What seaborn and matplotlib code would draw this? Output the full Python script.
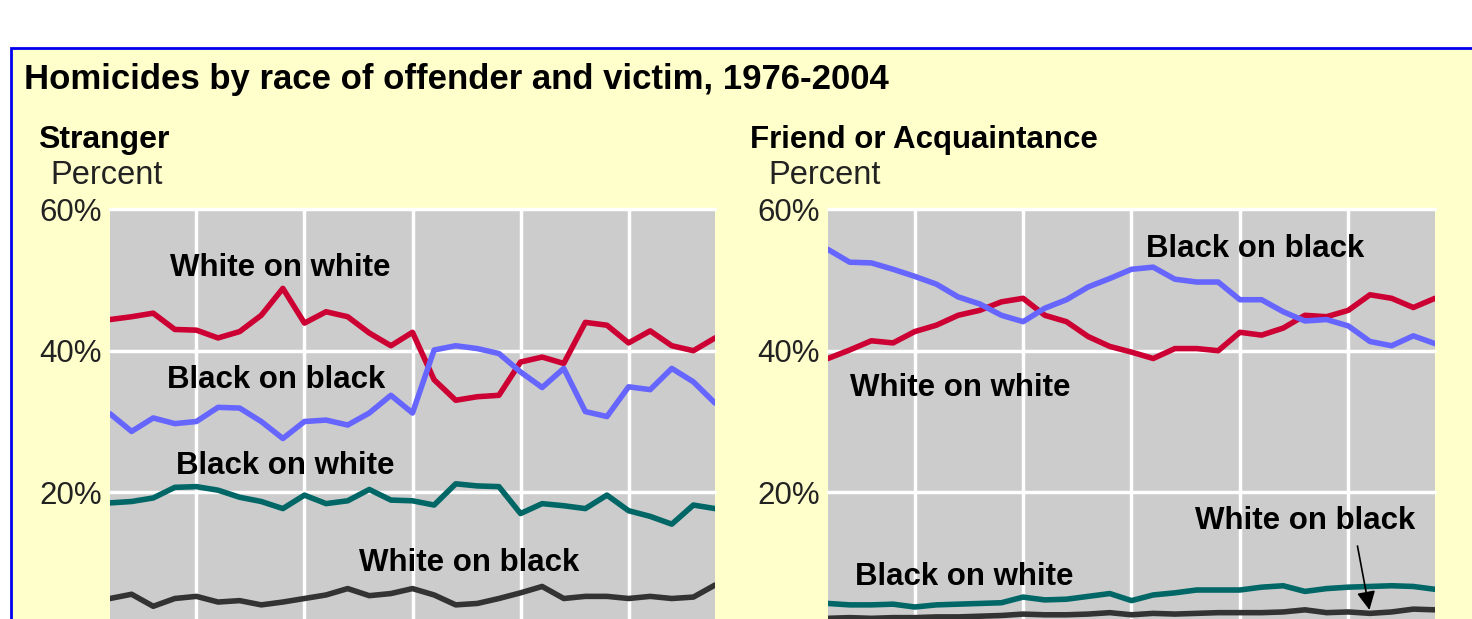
import matplotlib
matplotlib.use("Agg")
import matplotlib.pyplot as plt
from matplotlib.patches import Rectangle
import seaborn as sns
import pandas as pd

years = list(range(1976, 2005))

# Stranger panel (percent)
stranger_ww = [44.4, 44.8, 45.3, 43.0, 42.9, 41.8, 42.7, 45.0, 48.8, 43.9, 45.5, 44.8, 42.5, 40.7, 42.6,
               35.9, 33.0, 33.5, 33.7, 38.4, 39.1, 38.2, 44.0, 43.6, 41.1, 42.8, 40.7, 40.0, 41.8]
stranger_bb = [31.1, 28.6, 30.5, 29.7, 30.0, 32.0, 31.9, 30.0, 27.6, 30.0, 30.2, 29.5, 31.2, 33.7, 31.2,
               40.1, 40.7, 40.3, 39.6, 37.0, 34.8, 37.5, 31.4, 30.7, 34.9, 34.5, 37.5, 35.6, 32.6]
stranger_bw = [18.5, 18.7, 19.2, 20.7, 20.8, 20.3, 19.3, 18.7, 17.7, 19.6, 18.4, 18.8, 20.4, 18.9, 18.8,
               18.2, 21.2, 20.9, 20.8, 17.0, 18.4, 18.1, 17.7, 19.6, 17.4, 16.6, 15.5, 18.2, 17.7]
stranger_wb = [5.0, 5.6, 3.9, 5.0, 5.3, 4.5, 4.7, 4.1, 4.5, 5.0, 5.5, 6.4, 5.4, 5.7, 6.4,
               5.5, 4.1, 4.3, 5.0, 5.8, 6.7, 5.0, 5.3, 5.3, 5.0, 5.3, 5.0, 5.2, 6.9]

# Friend or acquaintance panel (percent)
friend_ww = [38.9, 40.1, 41.4, 41.1, 42.7, 43.6, 45.0, 45.7, 46.9, 47.4, 45.0, 44.1, 42.0, 40.6, 39.8,
             38.9, 40.3, 40.3, 40.0, 42.6, 42.2, 43.2, 45.0, 44.8, 45.7, 47.9, 47.4, 46.1, 47.4]
friend_bb = [54.3, 52.5, 52.4, 51.5, 50.5, 49.4, 47.6, 46.6, 45.0, 44.1, 46.0, 47.2, 49.0, 50.2, 51.5,
             51.8, 50.1, 49.7, 49.7, 47.2, 47.2, 45.5, 44.2, 44.4, 43.5, 41.3, 40.7, 42.1, 41.0]
friend_bw = [4.3, 4.1, 4.1, 4.2, 3.8, 4.1, 4.2, 4.3, 4.4, 5.2, 4.8, 4.9, 5.3, 5.7, 4.7,
             5.5, 5.8, 6.2, 6.2, 6.2, 6.6, 6.8, 6.0, 6.4, 6.6, 6.7, 6.8, 6.7, 6.3]
friend_wb = [2.2, 2.3, 2.2, 2.3, 2.3, 2.4, 2.4, 2.5, 2.6, 2.8, 2.7, 2.7, 2.8, 3.0, 2.7,
             2.9, 2.8, 2.9, 3.0, 3.0, 3.0, 3.1, 3.4, 3.0, 3.1, 2.9, 3.1, 3.5, 3.4]

series_names = ["White on white", "Black on black", "Black on white", "White on black"]
palette = {"White on white": "#CC0033", "Black on black": "#6666FF",
           "Black on white": "#006666", "White on black": "#333333"}

yticks = [20, 40, 60]
ytick_labels = ["20%", "40%", "60%"]
xgrid = [1980, 1985, 1990, 1995, 2000]

BEIGE = "#FFFFCC"
PANEL = "#CCCCCC"
FONT = "Liberation Sans"


def long_frame(values):
    rows = []
    for name, vals in zip(series_names, values):
        for yr, v in zip(years, vals):
            rows.append({"year": yr, "pct": v, "series": name})
    return pd.DataFrame(rows)


sns.set_style("white")
plt.rcParams["font.family"] = [FONT, "DejaVu Sans"]
plt.rcParams["text.color"] = "black"

W, H = 1472, 619
fig = plt.figure(figsize=(W / 100, H / 100), dpi=100)
fig.patch.set_facecolor("white")

# beige frame with blue border (cropped on right and bottom)
fig.patches.append(Rectangle((11 / W, -0.05), 1.1, (H - 48) / H + 0.05, transform=fig.transFigure,
                             facecolor=BEIGE, edgecolor="#0000EE", linewidth=2, zorder=-5))


def top_px(px):
    return 1 - px / H


y_top, y_zero = 209.1, 633.9
panels = [
    (110, 715, stranger_ww, stranger_bb, stranger_bw, stranger_wb),
    (828, 1435, friend_ww, friend_bb, friend_bw, friend_wb),
]
axes = []
for x0, x1, ww, bb, bw, wb in panels:
    ax = fig.add_axes([x0 / W, top_px(y_zero), (x1 - x0) / W, (y_zero - y_top) / H])
    ax.set_facecolor(PANEL)
    df = long_frame([ww, bb, bw, wb])
    sns.lineplot(data=df, x="year", y="pct", hue="series", palette=palette,
                 hue_order=series_names, linewidth=4, legend=False, ax=ax, zorder=3)
    ax.set_xlim(1976, 2004)
    ax.set_ylim(0, 60)
    for xv in xgrid:
        ax.axvline(xv, color="white", linewidth=2.5, zorder=1)
    for yv in yticks:
        ax.axhline(yv, color="white", linewidth=2.5, zorder=1, clip_on=False)
    ax.set_xticks([])
    ax.set_yticks(yticks)
    ax.set_yticklabels(ytick_labels, fontsize=22.5, color="#222222")
    ax.tick_params(axis="y", length=0, pad=6)
    ax.set_xlabel("")
    ax.set_ylabel("")
    for s in ax.spines.values():
        s.set_visible(False)
    axes.append(ax)

ax_s, ax_f = axes
lab = dict(fontsize=22.5, fontweight="bold", ha="center", va="center", color="black", zorder=5)
ax_s.text(1983.9, 51.7, "White on white", **lab)
ax_s.text(1983.7, 35.9, "Black on black", **lab)
ax_s.text(1984.1, 23.7, "Black on white", **lab)
ax_s.text(1992.6, 10.0, "White on black", **lab)

ax_f.text(1995.7, 54.3, "Black on black", **lab)
ax_f.text(1982.1, 34.7, "White on white", **lab)
ax_f.text(1998.0, 15.9, "White on black", **lab)
ax_f.text(1982.3, 8.0, "Black on white", **lab)
ax_f.annotate("", xy=(2001.0, 3.0), xytext=(2000.4, 12.8),
              arrowprops=dict(arrowstyle="-|>", color="black", lw=1.2, mutation_scale=28), zorder=6)

# titles
fig.text(24 / W, top_px(80), "Homicides by race of offender and victim, 1976-2004",
         fontsize=25, fontweight="bold", ha="left", va="center")
fig.text(38 / W, top_px(140), "Stranger", fontsize=23, fontweight="bold", ha="left", va="center")
fig.text(50 / W, top_px(175), "Percent", fontsize=23.5, ha="left", va="center", color="#222222")
fig.text(750 / W, top_px(140), "Friend or Acquaintance", fontsize=22.5, fontweight="bold",
         ha="left", va="center")
fig.text(768 / W, top_px(175), "Percent", fontsize=23.5, ha="left", va="center", color="#222222")

fig.savefig("out.png", dpi=100, facecolor=fig.get_facecolor())
